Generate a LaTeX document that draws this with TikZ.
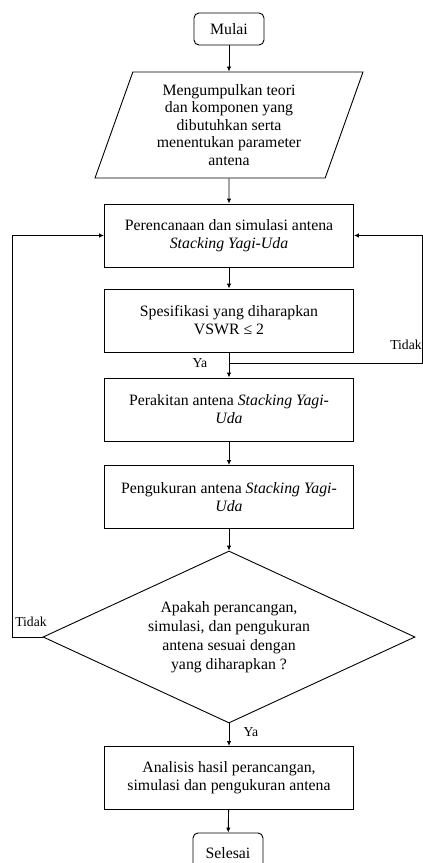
\documentclass[tikz,border=0pt]{standalone}
\usepackage{fontspec}
\setmainfont{Liberation Serif}
\usetikzlibrary{shapes.geometric,arrows.meta}
\begin{document}
\begin{tikzpicture}[x=1pt,y=-1pt,
  every node/.style={font=\fontsize{15.8}{18}\selectfont},
  proc/.style={draw,line width=0.9pt,minimum width=249pt,minimum height=63pt,inner sep=0pt,align=center},
  term/.style={draw,line width=0.9pt,rounded corners=5pt,minimum width=70pt,minimum height=32pt,inner sep=0pt},
  iobox/.style={trapezium,draw,line width=0.9pt,trapezium left angle=65,trapezium right angle=115,
    trapezium stretches body=true,minimum width=268pt,minimum height=106pt,inner sep=0pt,align=center,
    font=\fontsize{15.8}{17.5}\selectfont},
  decide/.style={diamond,draw,line width=0.9pt,aspect=2.16,minimum width=372pt,minimum height=172pt,
    inner sep=0pt,align=center,font=\fontsize{15.8}{19}\selectfont},
  conn/.style={line width=0.9pt,-{Latex[length=5pt,width=4.5pt]}},
  lbl/.style={inner sep=0pt,font=\fontsize{13.7}{16}\selectfont}]
\useasboundingbox (0,0) rectangle (423,863);
\clip (0,0) rectangle (423,863);

\node[term] (start) at (229,29) {Mulai};
\node[iobox] (para) at (229,125) {Mengumpulkan teori\\dan komponen yang\\dibutuhkan serta\\menentukan parameter\\antena};
\node[proc] (b2) at (229,235.5) {Perencanaan dan simulasi antena\\\textit{Stacking Yagi-Uda}};
\node[proc] (b3) at (229,320.5) {Spesifikasi yang diharapkan\\VSWR ≤ 2};
\node[proc] (b4) at (229,409.5) {Perakitan antena \textit{Stacking Yagi-}\\\textit{Uda}};
\node[proc] (b5) at (229,497) {Pengukuran antena \textit{Stacking Yagi-}\\\textit{Uda}};
\node[decide] (dia) at (229,637) {Apakah perancangan,\\simulasi, dan pengukuran\\antena sesuai dengan\\yang diharapkan ?};
\node[proc] (b6) at (229,778) {Analisis hasil perancangan,\\simulasi dan pengukuran antena};
\node[term,minimum height=40pt] (end) at (228,853) {Selesai};

\draw[conn] (start) -- (para);
\draw[conn] (para) -- (b2);
\draw[conn] (b2) -- (b3);
\draw[conn] (b3) -- (b4);
\draw[conn] (b4) -- (b5);
\draw[conn] (b5) -- (dia);
\draw[conn] (dia) -- (b6);
\draw[conn] (b6) -- (end);

\coordinate (j) at (229,363);
\draw[conn] (j) -- (422,363) |- (b2.east);
\draw[conn] (dia.west) -- (12,637) |- (b2.west);

\node[lbl] (ya1) at (200,363) {Ya};
\node[lbl] (td1) at (406,345) {Tidak};
\node[lbl] (td2) at (31,622) {Tidak};
\node[lbl] (ya2) at (251,732) {Ya};
\end{tikzpicture}
\end{document}
